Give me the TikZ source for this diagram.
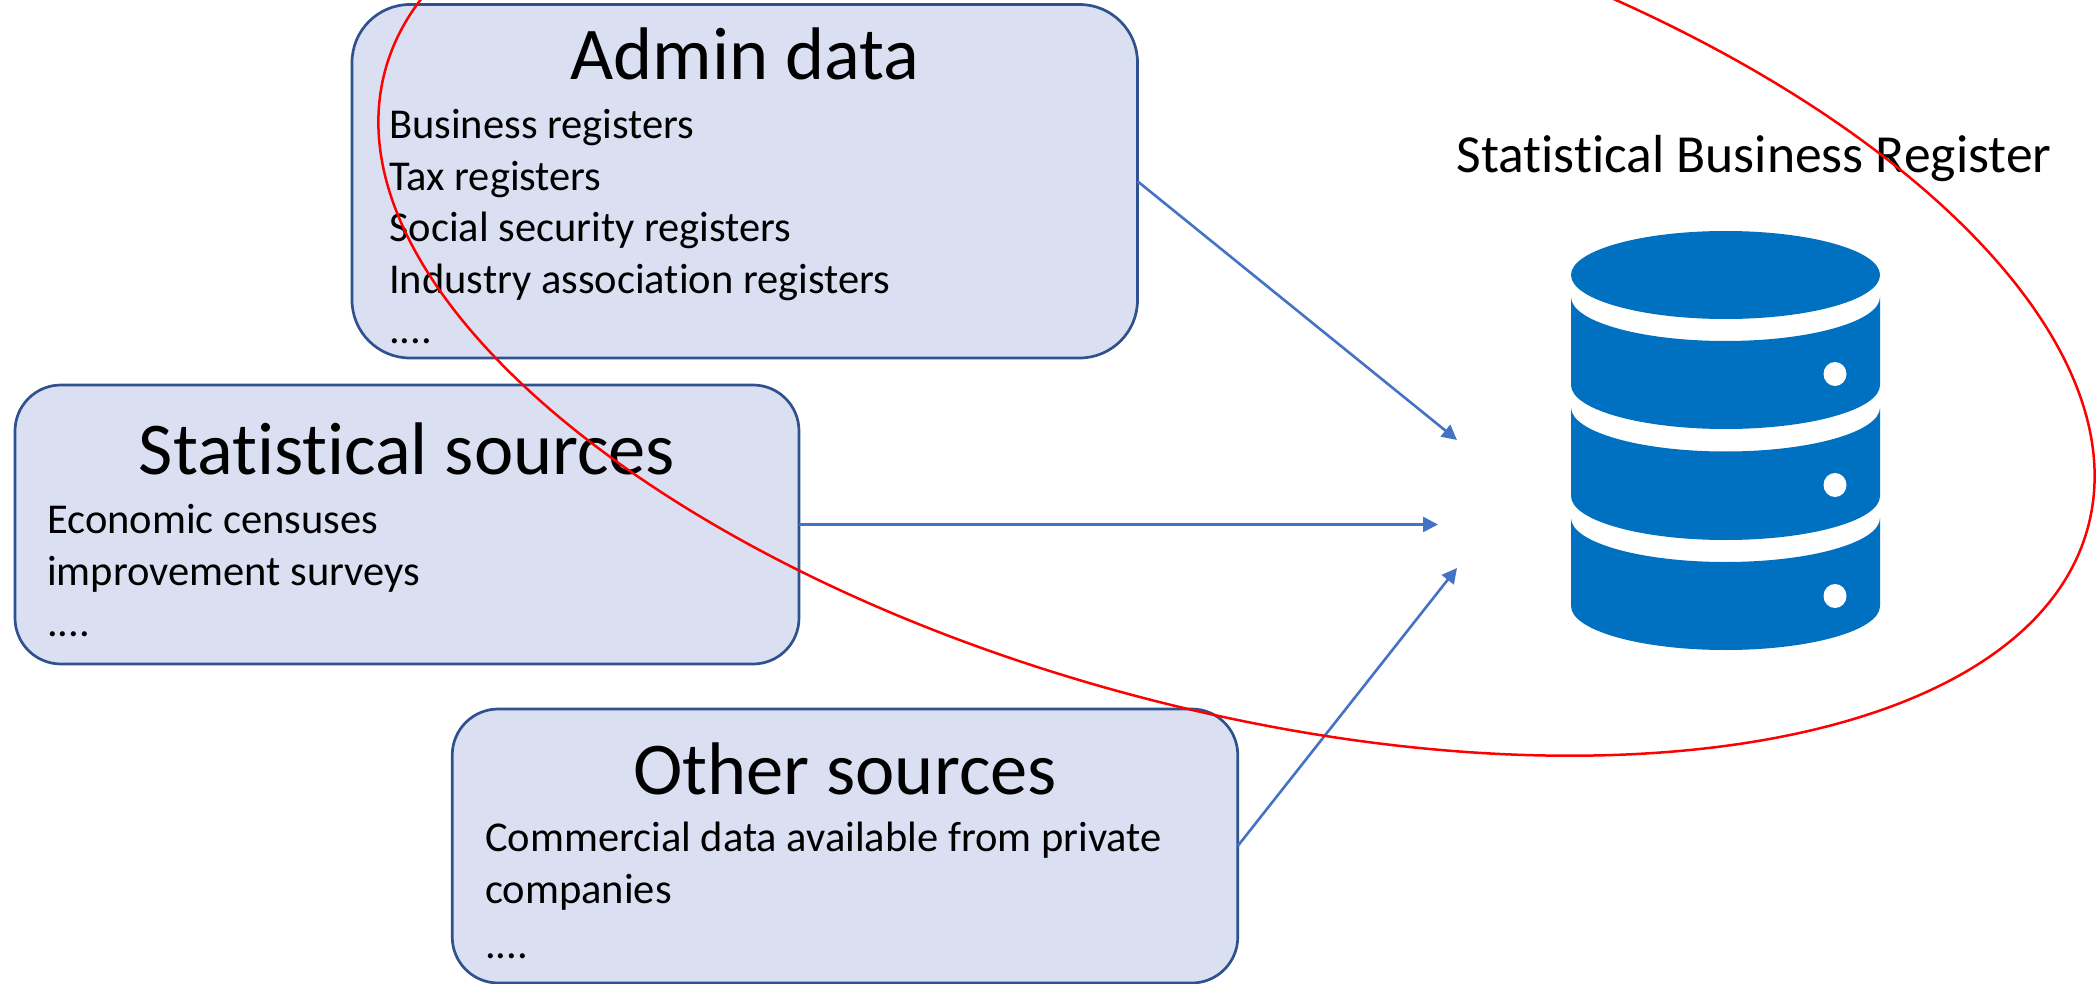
\documentclass[tikz,border=0pt]{standalone}
\usepackage{fontspec}
\setmainfont{Carlito}[RawFeature={-liga;-clig}]
\usetikzlibrary{arrows.meta}
\definecolor{boxfill}{HTML}{DAE0F2}
\definecolor{boxline}{HTML}{2F528F}
\definecolor{arrowblue}{HTML}{4472C4}
\definecolor{dbblue}{HTML}{0070C0}
\tikzset{
  srcbox/.style={draw=boxline,fill=boxfill,line width=2.7pt,inner sep=0pt,outer sep=0pt},
  titletext/.style={font=\fontsize{74.5}{80}\selectfont,anchor=base,inner sep=0pt},
  bodytext/.style={font=\fontsize{42.5}{50}\selectfont,anchor=base west,inner sep=0pt},
  feed/.style={draw=arrowblue,line width=2.6pt,-{Triangle[length=15pt,width=15pt]}},
  dbpart/.style={fill=dbblue,draw=none},
  dbdot/.style={fill=white,draw=none},
}
\begin{document}
\begin{tikzpicture}[x=1pt,y=1pt]
\path[use as bounding box] (0,-984) rectangle (2096,0);
\clip (0,-984) rectangle (2096,0);
% boxes
\node[srcbox,rounded corners=58pt,minimum width=785.5pt,minimum height=353.5pt] (admin) at (744.75,-181.25) {};
\node[srcbox,rounded corners=46pt,minimum width=784pt,minimum height=279pt] (stat) at (407,-524.5) {};
\node[srcbox,rounded corners=46pt,minimum width=785.5pt,minimum height=274pt] (other) at (845,-846) {};
% admin text
\node[titletext] (admintitle) at (745,-80) {Admin data};
\node[bodytext] (a1) at (389,-139) {Business registers};
\node[bodytext] (a2) at (389,-190.5) {Tax registers};
\node[bodytext] (a3) at (389,-242) {Social security registers};
\node[bodytext] (a4) at (389,-293.5) {Industry association registers};
\node[bodytext] (a5) at (389,-343) {....};
% stat text
\node[titletext] (stattitle) at (407,-474) {Statistical sources};
\node[bodytext] (s1) at (47,-533.5) {Economic censuses};
\node[bodytext] (s2) at (47,-585.5) {improvement surveys};
\node[bodytext] (s3) at (47,-636) {....};
% other text
\node[titletext] (othertitle) at (845,-794) {Other sources};
\node[bodytext] (o1) at (485,-851.5) {Commercial data available from private};
\node[bodytext] (o2) at (485,-903.5) {companies};
\node[bodytext] (o3) at (485,-958) {....};
% register title
\node[font=\fontsize{53.6}{58}\selectfont,anchor=base,inner sep=0pt] (sbr) at (1754,-173) {Statistical Business Register};
% database icon
\fill[dbpart] (1725.5,-275) ellipse [x radius=154.5pt,y radius=44pt];
\foreach \t/\b in {-297/-385,-407.5/-496,-518/-606}{
  \fill[dbpart] (1571,\t) -- (1571,\b) arc[start angle=180,end angle=360,x radius=154.5pt,y radius=44pt]
     -- (1880,\t) arc[start angle=360,end angle=180,x radius=154.5pt,y radius=44pt] -- cycle;
}
\foreach \y in {-374,-485,-596}{
  \fill[dbdot] (1835,\y) ellipse [x radius=11.5pt,y radius=12pt];
}
% connectors
\coordinate (t1) at (1457,-440);
\coordinate (t2) at (1438,-524.5);
\coordinate (t3) at (1457,-568);
\draw[feed] (admin.east) -- (t1);
\draw[feed] (stat.east) -- (t2);
\draw[feed] (other.east) -- (t3);
% red ellipse
\draw[red,line width=2.5pt,rotate around={-15:(1236.5,-299)}] (1236.5,-299) ellipse [x radius=881.5pt,y radius=409.5pt];
\end{tikzpicture}
\end{document}
